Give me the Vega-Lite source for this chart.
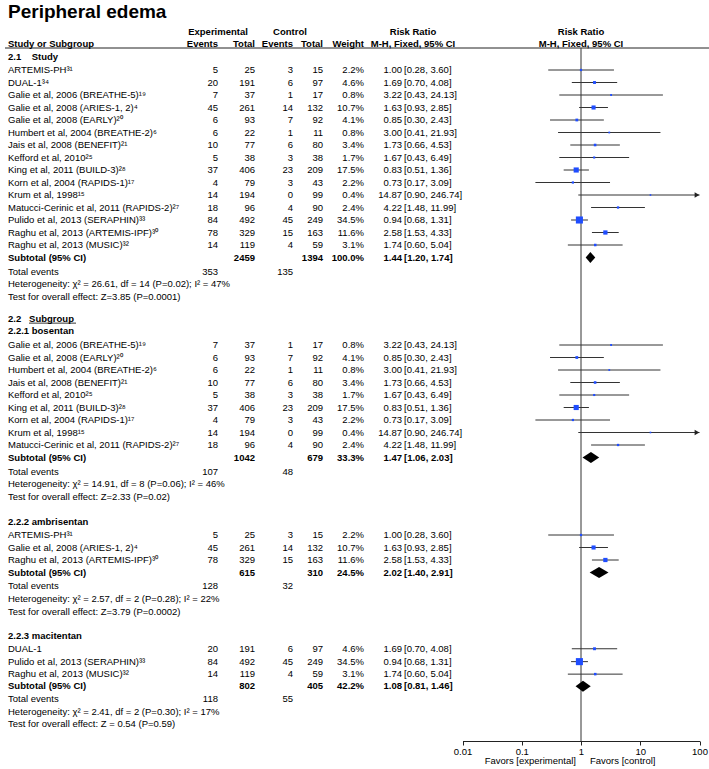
{
  "$schema": "https://vega.github.io/schema/vega-lite/v6.json",
  "autosize": {"type": "none"},
  "padding": {"left": 0, "top": 20, "right": 0, "bottom": 28},
  "width": 709,
  "height": 721,
  "config": {
    "view": {"stroke": null},
    "text": {"font": "Liberation Sans", "fontSize": 9.5, "baseline": "middle", "color": "#000"}
  },
  "datasets": {
    "t": [
      {"r": -1.04, "k": "sec", "s": "2.1\u00a0\u00a0\u00a0\u00a0Study"},
      {"r": 0, "k": "st", "s": "ARTEMIS-PH\u00b3\u00b9", "ee": 5, "et": 25, "ce": 3, "ct": 15, "w": 0.022, "est": 1.00, "lo": 0.28, "hi": 3.60, "ci": "[0.28, 3.60]"},
      {"r": 1, "k": "st", "s": "DUAL-1\u00b3\u2074", "ee": 20, "et": 191, "ce": 6, "ct": 97, "w": 0.046, "est": 1.69, "lo": 0.70, "hi": 4.08, "ci": "[0.70, 4.08]"},
      {"r": 2, "k": "st", "s": "Galie et al, 2006 (BREATHE-5)\u00b9\u2079", "ee": 7, "et": 37, "ce": 1, "ct": 17, "w": 0.008, "est": 3.22, "lo": 0.43, "hi": 24.13, "ci": "[0.43, 24.13]"},
      {"r": 3, "k": "st", "s": "Galie et al, 2008 (ARIES-1, 2)\u2074", "ee": 45, "et": 261, "ce": 14, "ct": 132, "w": 0.107, "est": 1.63, "lo": 0.93, "hi": 2.85, "ci": "[0.93, 2.85]"},
      {"r": 4, "k": "st", "s": "Galie et al, 2008 (EARLY)\u00b2\u2070", "ee": 6, "et": 93, "ce": 7, "ct": 92, "w": 0.041, "est": 0.85, "lo": 0.30, "hi": 2.43, "ci": "[0.30, 2.43]"},
      {"r": 5, "k": "st", "s": "Humbert et al, 2004 (BREATHE-2)\u2076", "ee": 6, "et": 22, "ce": 1, "ct": 11, "w": 0.008, "est": 3.00, "lo": 0.41, "hi": 21.93, "ci": "[0.41, 21.93]"},
      {"r": 6, "k": "st", "s": "Jais et al, 2008 (BENEFIT)\u00b2\u00b9", "ee": 10, "et": 77, "ce": 6, "ct": 80, "w": 0.034, "est": 1.73, "lo": 0.66, "hi": 4.53, "ci": "[0.66, 4.53]"},
      {"r": 7, "k": "st", "s": "Kefford et al, 2010\u00b2\u2075", "ee": 5, "et": 38, "ce": 3, "ct": 38, "w": 0.017, "est": 1.67, "lo": 0.43, "hi": 6.49, "ci": "[0.43, 6.49]"},
      {"r": 8, "k": "st", "s": "King et al, 2011 (BUILD-3)\u00b2\u2078", "ee": 37, "et": 406, "ce": 23, "ct": 209, "w": 0.175, "est": 0.83, "lo": 0.51, "hi": 1.36, "ci": "[0.51, 1.36]"},
      {"r": 9, "k": "st", "s": "Korn et al, 2004 (RAPIDS-1)\u00b9\u2077", "ee": 4, "et": 79, "ce": 3, "ct": 43, "w": 0.022, "est": 0.73, "lo": 0.17, "hi": 3.09, "ci": "[0.17, 3.09]"},
      {"r": 10, "k": "st", "s": "Krum et al, 1998\u00b9\u2075", "ee": 14, "et": 194, "ce": 0, "ct": 99, "w": 0.004, "est": 14.87, "lo": 0.90, "hi": 246.74, "ci": "[0.90, 246.74]"},
      {"r": 11, "k": "st", "s": "Matucci-Cerinic et al, 2011 (RAPIDS-2)\u00b2\u2077", "ee": 18, "et": 96, "ce": 4, "ct": 90, "w": 0.024, "est": 4.22, "lo": 1.48, "hi": 11.99, "ci": "[1.48, 11.99]"},
      {"r": 12, "k": "st", "s": "Pulido et al, 2013 (SERAPHIN)\u00b3\u00b3", "ee": 84, "et": 492, "ce": 45, "ct": 249, "w": 0.345, "est": 0.94, "lo": 0.68, "hi": 1.31, "ci": "[0.68, 1.31]"},
      {"r": 13, "k": "st", "s": "Raghu et al, 2013 (ARTEMIS-IPF)\u00b3\u2070", "ee": 78, "et": 329, "ce": 15, "ct": 163, "w": 0.116, "est": 2.58, "lo": 1.53, "hi": 4.33, "ci": "[1.53, 4.33]"},
      {"r": 14, "k": "st", "s": "Raghu et al, 2013 (MUSIC)\u00b3\u00b2", "ee": 14, "et": 119, "ce": 4, "ct": 59, "w": 0.031, "est": 1.74, "lo": 0.60, "hi": 5.04, "ci": "[0.60, 5.04]"},
      {"r": 15, "k": "sub", "s": "Subtotal (95% CI)", "et": 2459, "ct": 1394, "w": 1.0, "est": 1.44, "ci": "[1.20, 1.74]"},
      {"r": 16.16, "k": "tot", "s": "Total events", "ee": 353, "ce": 135},
      {"r": 17.12, "k": "note", "s": "Heterogeneity: \u03c7\u00b2 = 26.61, df = 14 (P=0.02); I\u00b2 = 47%"},
      {"r": 18.16, "k": "note", "s": "Test for overall effect: Z=3.85 (P=0.0001)"},
      {"r": 19.88, "k": "sec", "s": "2.2\u00a0\u00a0\u00a0Subgroup"},
      {"r": 20.88, "k": "sec", "s": "2.2.1 bosentan"},
      {"r": 22, "k": "st", "s": "Galie et al, 2006 (BREATHE-5)\u00b9\u2079", "ee": 7, "et": 37, "ce": 1, "ct": 17, "w": 0.008, "est": 3.22, "lo": 0.43, "hi": 24.13, "ci": "[0.43, 24.13]"},
      {"r": 23, "k": "st", "s": "Galie et al, 2008 (EARLY)\u00b2\u2070", "ee": 6, "et": 93, "ce": 7, "ct": 92, "w": 0.041, "est": 0.85, "lo": 0.30, "hi": 2.43, "ci": "[0.30, 2.43]"},
      {"r": 24, "k": "st", "s": "Humbert et al, 2004 (BREATHE-2)\u2076", "ee": 6, "et": 22, "ce": 1, "ct": 11, "w": 0.008, "est": 3.00, "lo": 0.41, "hi": 21.93, "ci": "[0.41, 21.93]"},
      {"r": 25, "k": "st", "s": "Jais et al, 2008 (BENEFIT)\u00b2\u00b9", "ee": 10, "et": 77, "ce": 6, "ct": 80, "w": 0.034, "est": 1.73, "lo": 0.66, "hi": 4.53, "ci": "[0.66, 4.53]"},
      {"r": 26, "k": "st", "s": "Kefford et al, 2010\u00b2\u2075", "ee": 5, "et": 38, "ce": 3, "ct": 38, "w": 0.017, "est": 1.67, "lo": 0.43, "hi": 6.49, "ci": "[0.43, 6.49]"},
      {"r": 27, "k": "st", "s": "King et al, 2011 (BUILD-3)\u00b2\u2078", "ee": 37, "et": 406, "ce": 23, "ct": 209, "w": 0.175, "est": 0.83, "lo": 0.51, "hi": 1.36, "ci": "[0.51, 1.36]"},
      {"r": 28, "k": "st", "s": "Korn et al, 2004 (RAPIDS-1)\u00b9\u2077", "ee": 4, "et": 79, "ce": 3, "ct": 43, "w": 0.022, "est": 0.73, "lo": 0.17, "hi": 3.09, "ci": "[0.17, 3.09]"},
      {"r": 29, "k": "st", "s": "Krum et al, 1998\u00b9\u2075", "ee": 14, "et": 194, "ce": 0, "ct": 99, "w": 0.004, "est": 14.87, "lo": 0.90, "hi": 246.74, "ci": "[0.90, 246.74]"},
      {"r": 30, "k": "st", "s": "Matucci-Cerinic et al, 2011 (RAPIDS-2)\u00b2\u2077", "ee": 18, "et": 96, "ce": 4, "ct": 90, "w": 0.024, "est": 4.22, "lo": 1.48, "hi": 11.99, "ci": "[1.48, 11.99]"},
      {"r": 31, "k": "sub", "s": "Subtotal (95% CI)", "et": 1042, "ct": 679, "w": 0.333, "est": 1.47, "ci": "[1.06, 2.03]"},
      {"r": 32.16, "k": "tot", "s": "Total events", "ee": 107, "ce": 48},
      {"r": 33.12, "k": "note", "s": "Heterogeneity: \u03c7\u00b2 = 14.91, df = 8 (P=0.06); I\u00b2 = 46%"},
      {"r": 34.16, "k": "note", "s": "Test for overall effect: Z=2.33 (P=0.02)"},
      {"r": 36.16, "k": "sec", "s": "2.2.2 ambrisentan"},
      {"r": 37.2, "k": "st", "s": "ARTEMIS-PH\u00b3\u00b9", "ee": 5, "et": 25, "ce": 3, "ct": 15, "w": 0.022, "est": 1.00, "lo": 0.28, "hi": 3.60, "ci": "[0.28, 3.60]"},
      {"r": 38.2, "k": "st", "s": "Galie et al, 2008 (ARIES-1, 2)\u2074", "ee": 45, "et": 261, "ce": 14, "ct": 132, "w": 0.107, "est": 1.63, "lo": 0.93, "hi": 2.85, "ci": "[0.93, 2.85]"},
      {"r": 39.2, "k": "st", "s": "Raghu et al, 2013 (ARTEMIS-IPF)\u00b3\u2070", "ee": 78, "et": 329, "ce": 15, "ct": 163, "w": 0.116, "est": 2.58, "lo": 1.53, "hi": 4.33, "ci": "[1.53, 4.33]"},
      {"r": 40.2, "k": "sub", "s": "Subtotal (95% CI)", "et": 615, "ct": 310, "w": 0.245, "est": 2.02, "ci": "[1.40, 2.91]"},
      {"r": 41.28, "k": "tot", "s": "Total events", "ee": 128, "ce": 32},
      {"r": 42.28, "k": "note", "s": "Heterogeneity: \u03c7\u00b2 = 2.57, df = 2 (P=0.28); I\u00b2 = 22%"},
      {"r": 43.32, "k": "note", "s": "Test for overall effect: Z=3.79 (P=0.0002)"},
      {"r": 45.28, "k": "sec", "s": "2.2.3 macitentan"},
      {"r": 46.3, "k": "st", "s": "DUAL-1", "ee": 20, "et": 191, "ce": 6, "ct": 97, "w": 0.046, "est": 1.69, "lo": 0.70, "hi": 4.08, "ci": "[0.70, 4.08]"},
      {"r": 47.33, "k": "st", "s": "Pulido et al, 2013 (SERAPHIN)\u00b3\u00b3", "ee": 84, "et": 492, "ce": 45, "ct": 249, "w": 0.345, "est": 0.94, "lo": 0.68, "hi": 1.31, "ci": "[0.68, 1.31]"},
      {"r": 48.33, "k": "st", "s": "Raghu et al, 2013 (MUSIC)\u00b3\u00b2", "ee": 14, "et": 119, "ce": 4, "ct": 59, "w": 0.031, "est": 1.74, "lo": 0.60, "hi": 5.04, "ci": "[0.60, 5.04]"},
      {"r": 49.3, "k": "sub", "s": "Subtotal (95% CI)", "et": 802, "ct": 405, "w": 0.422, "est": 1.08, "ci": "[0.81, 1.46]"},
      {"r": 50.33, "k": "tot", "s": "Total events", "ee": 118, "ce": 55},
      {"r": 51.35, "k": "note", "s": "Heterogeneity: \u03c7\u00b2 = 2.41, df = 2 (P=0.30); I\u00b2 = 17%"},
      {"r": 52.35, "k": "note", "s": "Test for overall effect: Z = 0.54 (P=0.59)"}
    ],
    "d": [
      {"g": "all", "r": 15, "k": 0, "x": 1.20},
      {"g": "all", "r": 15, "k": 1, "x": 1.44},
      {"g": "all", "r": 15, "k": 2, "x": 1.74},
      {"g": "bos", "r": 31, "k": 0, "x": 1.06},
      {"g": "bos", "r": 31, "k": 1, "x": 1.47},
      {"g": "bos", "r": 31, "k": 2, "x": 2.03},
      {"g": "amb", "r": 40.2, "k": 0, "x": 1.40},
      {"g": "amb", "r": 40.2, "k": 1, "x": 2.02},
      {"g": "amb", "r": 40.2, "k": 2, "x": 2.91},
      {"g": "mac", "r": 49.3, "k": 0, "x": 0.81},
      {"g": "mac", "r": 49.3, "k": 1, "x": 1.08},
      {"g": "mac", "r": 49.3, "k": 2, "x": 1.46}
    ],
    "h": [
      {"r": -4.2, "t": "Peripheral edema", "p": "title"},
      {"r": -3.04, "t": "Experimental", "p": "exp"},
      {"r": -3.04, "t": "Control", "p": "ctl"},
      {"r": -3.04, "t": "Risk Ratio", "p": "rrt"},
      {"r": -3.04, "t": "Risk Ratio", "p": "rrf"},
      {"r": -2.08, "t": "Study or Subgroup", "p": "s"},
      {"r": -2.08, "t": "Events", "p": "ee"},
      {"r": -2.08, "t": "Total", "p": "et"},
      {"r": -2.08, "t": "Events", "p": "ce"},
      {"r": -2.08, "t": "Total", "p": "ct"},
      {"r": -2.08, "t": "Weight", "p": "w"},
      {"r": -2.08, "t": "M-H, Fixed, 95% CI", "p": "rrt"},
      {"r": -2.08, "t": "M-H, Fixed, 95% CI", "p": "rrf"},
      {"r": 55.28, "t": "Favors [experimental]", "p": "fe"},
      {"r": 55.28, "t": "Favors [control]", "p": "fc"}
    ]
  },
  "layer": [
    {
      "data": {"values": [{}]},
      "mark": {"type": "rule", "color": "#222", "strokeWidth": 1},
      "encoding": {
        "x": {"value": 5}, "x2": {"value": 709},
        "y": {"datum": -1.76, "type": "quantitative", "scale": {"domain": [-4, 53.68], "reverse": true, "nice": false, "zero": false}, "axis": null}
      }
    },
    {
      "data": {"values": [{}]},
      "mark": {"type": "rule", "color": "#000", "strokeWidth": 0.8},
      "encoding": {
        "x": {"value": 29}, "x2": {"value": 76},
        "y": {"datum": 20.25, "type": "quantitative", "scale": {"domain": [-4, 53.68], "reverse": true, "nice": false, "zero": false}, "axis": null}
      }
    },
    {
      "data": {"values": [{}]},
      "mark": {"type": "rule", "color": "#333", "strokeWidth": 1},
      "encoding": {
        "x": {"datum": 1, "type": "quantitative", "scale": {"type": "log", "domain": [0.01, 100], "range": [462.5, 699.5], "clamp": true, "nice": false},
              "axis": {"values": [0.01, 0.1, 1, 10, 100], "format": "~g", "title": null, "grid": false, "tickSize": 4, "labelPadding": 1, "labelFontSize": 9.5, "labelFont": "Liberation Sans", "labelColor": "#000", "domainColor": "#222", "tickColor": "#222", "labelOverlap": false, "labelFlush": false}},
        "y": {"datum": -1.76, "type": "quantitative", "scale": {"domain": [-4, 53.68], "reverse": true, "nice": false, "zero": false}, "axis": null},
        "y2": {"datum": 53.68}
      }
    },
    {
      "data": {"name": "t"},
      "transform": [{"filter": {"field": "k", "equal": "st"}}],
      "mark": {"type": "rule", "color": "#333", "strokeWidth": 1},
      "encoding": {
        "x": {"field": "lo", "type": "quantitative", "scale": {"type": "log", "domain": [0.01, 100], "range": [462.5, 699.5], "clamp": true, "nice": false},
              "axis": {"values": [0.01, 0.1, 1, 10, 100], "format": "~g", "title": null, "grid": false, "tickSize": 4, "labelPadding": 1, "labelFontSize": 9.5, "labelFont": "Liberation Sans", "labelColor": "#000", "domainColor": "#222", "tickColor": "#222", "labelOverlap": false, "labelFlush": false}},
        "x2": {"field": "hi"},
        "y": {"field": "r", "type": "quantitative", "scale": {"domain": [-4, 53.68], "reverse": true, "nice": false, "zero": false}, "axis": null}
      }
    },
    {
      "data": {"name": "t"},
      "transform": [{"filter": {"field": "k", "equal": "st"}}],
      "mark": {"type": "point", "shape": "square", "filled": true, "color": "#1f4dff", "opacity": 1, "strokeWidth": 0},
      "encoding": {
        "x": {"field": "est", "type": "quantitative", "scale": {"type": "log", "domain": [0.01, 100], "range": [462.5, 699.5], "clamp": true, "nice": false},
              "axis": {"values": [0.01, 0.1, 1, 10, 100], "format": "~g", "title": null, "grid": false, "tickSize": 4, "labelPadding": 1, "labelFontSize": 9.5, "labelFont": "Liberation Sans", "labelColor": "#000", "domainColor": "#222", "tickColor": "#222", "labelOverlap": false, "labelFlush": false}},
        "y": {"field": "r", "type": "quantitative", "scale": {"domain": [-4, 53.68], "reverse": true, "nice": false, "zero": false}, "axis": null},
        "size": {"field": "w", "type": "quantitative", "scale": {"domain": [0, 0.345], "range": [2, 50]}, "legend": null}
      }
    },
    {
      "data": {"name": "t"},
      "transform": [{"filter": {"and": [{"field": "k", "equal": "st"}, {"field": "hi", "gt": 100}]}}],
      "mark": {"type": "point", "shape": "triangle-right", "filled": true, "color": "#222", "opacity": 1, "size": 30, "xOffset": -2.5},
      "encoding": {
        "x": {"field": "hi", "type": "quantitative", "scale": {"type": "log", "domain": [0.01, 100], "range": [462.5, 699.5], "clamp": true, "nice": false},
              "axis": {"values": [0.01, 0.1, 1, 10, 100], "format": "~g", "title": null, "grid": false, "tickSize": 4, "labelPadding": 1, "labelFontSize": 9.5, "labelFont": "Liberation Sans", "labelColor": "#000", "domainColor": "#222", "tickColor": "#222", "labelOverlap": false, "labelFlush": false}},
        "y": {"field": "r", "type": "quantitative", "scale": {"domain": [-4, 53.68], "reverse": true, "nice": false, "zero": false}, "axis": null}
      }
    },
    {
      "data": {"name": "d"},
      "mark": {"type": "area", "color": "#000", "orient": "vertical", "yOffset": {"expr": "datum.k == 1 ? -5.5 : 0"}, "y2Offset": {"expr": "datum.k == 1 ? 5.5 : 0"}},
      "encoding": {
        "x": {"field": "x", "type": "quantitative", "scale": {"type": "log", "domain": [0.01, 100], "range": [462.5, 699.5], "clamp": true, "nice": false},
              "axis": {"values": [0.01, 0.1, 1, 10, 100], "format": "~g", "title": null, "grid": false, "tickSize": 4, "labelPadding": 1, "labelFontSize": 9.5, "labelFont": "Liberation Sans", "labelColor": "#000", "domainColor": "#222", "tickColor": "#222", "labelOverlap": false, "labelFlush": false}},
        "y": {"field": "r", "type": "quantitative", "scale": {"domain": [-4, 53.68], "reverse": true, "nice": false, "zero": false}, "axis": null},
        "y2": {"field": "r"},
        "detail": {"field": "g", "type": "nominal"}
      }
    },
    {
      "data": {"name": "t"},
      "transform": [{"filter": {"field": "k", "oneOf": ["st", "tot", "note"]}}],
      "mark": {"type": "text", "align": "left"},
      "encoding": {"x": {"value": 8}, "y": {"field": "r", "type": "quantitative", "scale": {"domain": [-4, 53.68], "reverse": true, "nice": false, "zero": false}, "axis": null}, "text": {"field": "s", "type": "nominal"}}
    },
    {
      "data": {"name": "t"},
      "transform": [{"filter": {"field": "k", "oneOf": ["sec", "sub"]}}],
      "mark": {"type": "text", "align": "left", "fontWeight": "bold"},
      "encoding": {"x": {"value": 8}, "y": {"field": "r", "type": "quantitative", "scale": {"domain": [-4, 53.68], "reverse": true, "nice": false, "zero": false}, "axis": null}, "text": {"field": "s", "type": "nominal"}}
    },
    {
      "data": {"name": "t"},
      "transform": [{"filter": {"field": "k", "oneOf": ["st", "tot"]}}],
      "mark": {"type": "text", "align": "right"},
      "encoding": {"x": {"value": 218}, "y": {"field": "r", "type": "quantitative", "scale": {"domain": [-4, 53.68], "reverse": true, "nice": false, "zero": false}, "axis": null}, "text": {"field": "ee", "type": "nominal"}}
    },
    {
      "data": {"name": "t"},
      "transform": [{"filter": {"field": "k", "equal": "st"}}],
      "mark": {"type": "text", "align": "right"},
      "encoding": {"x": {"value": 255}, "y": {"field": "r", "type": "quantitative", "scale": {"domain": [-4, 53.68], "reverse": true, "nice": false, "zero": false}, "axis": null}, "text": {"field": "et", "type": "nominal"}}
    },
    {
      "data": {"name": "t"},
      "transform": [{"filter": {"field": "k", "equal": "sub"}}],
      "mark": {"type": "text", "align": "right", "fontWeight": "bold"},
      "encoding": {"x": {"value": 255}, "y": {"field": "r", "type": "quantitative", "scale": {"domain": [-4, 53.68], "reverse": true, "nice": false, "zero": false}, "axis": null}, "text": {"field": "et", "type": "nominal"}}
    },
    {
      "data": {"name": "t"},
      "transform": [{"filter": {"field": "k", "oneOf": ["st", "tot"]}}],
      "mark": {"type": "text", "align": "right"},
      "encoding": {"x": {"value": 293}, "y": {"field": "r", "type": "quantitative", "scale": {"domain": [-4, 53.68], "reverse": true, "nice": false, "zero": false}, "axis": null}, "text": {"field": "ce", "type": "nominal"}}
    },
    {
      "data": {"name": "t"},
      "transform": [{"filter": {"field": "k", "equal": "st"}}],
      "mark": {"type": "text", "align": "right"},
      "encoding": {"x": {"value": 323}, "y": {"field": "r", "type": "quantitative", "scale": {"domain": [-4, 53.68], "reverse": true, "nice": false, "zero": false}, "axis": null}, "text": {"field": "ct", "type": "nominal"}}
    },
    {
      "data": {"name": "t"},
      "transform": [{"filter": {"field": "k", "equal": "sub"}}],
      "mark": {"type": "text", "align": "right", "fontWeight": "bold"},
      "encoding": {"x": {"value": 323}, "y": {"field": "r", "type": "quantitative", "scale": {"domain": [-4, 53.68], "reverse": true, "nice": false, "zero": false}, "axis": null}, "text": {"field": "ct", "type": "nominal"}}
    },
    {
      "data": {"name": "t"},
      "transform": [{"filter": {"field": "k", "equal": "st"}}],
      "mark": {"type": "text", "align": "right"},
      "encoding": {"x": {"value": 364}, "y": {"field": "r", "type": "quantitative", "scale": {"domain": [-4, 53.68], "reverse": true, "nice": false, "zero": false}, "axis": null}, "text": {"field": "w", "type": "quantitative", "format": ".1%"}}
    },
    {
      "data": {"name": "t"},
      "transform": [{"filter": {"field": "k", "equal": "sub"}}],
      "mark": {"type": "text", "align": "right", "fontWeight": "bold"},
      "encoding": {"x": {"value": 364}, "y": {"field": "r", "type": "quantitative", "scale": {"domain": [-4, 53.68], "reverse": true, "nice": false, "zero": false}, "axis": null}, "text": {"field": "w", "type": "quantitative", "format": ".1%"}}
    },
    {
      "data": {"name": "t"},
      "transform": [{"filter": {"field": "k", "equal": "st"}}],
      "mark": {"type": "text", "align": "right"},
      "encoding": {"x": {"value": 402}, "y": {"field": "r", "type": "quantitative", "scale": {"domain": [-4, 53.68], "reverse": true, "nice": false, "zero": false}, "axis": null}, "text": {"field": "est", "type": "quantitative", "format": ".2f"}}
    },
    {
      "data": {"name": "t"},
      "transform": [{"filter": {"field": "k", "equal": "sub"}}],
      "mark": {"type": "text", "align": "right", "fontWeight": "bold"},
      "encoding": {"x": {"value": 402}, "y": {"field": "r", "type": "quantitative", "scale": {"domain": [-4, 53.68], "reverse": true, "nice": false, "zero": false}, "axis": null}, "text": {"field": "est", "type": "quantitative", "format": ".2f"}}
    },
    {
      "data": {"name": "t"},
      "transform": [{"filter": {"field": "k", "equal": "st"}}],
      "mark": {"type": "text", "align": "left"},
      "encoding": {"x": {"value": 404}, "y": {"field": "r", "type": "quantitative", "scale": {"domain": [-4, 53.68], "reverse": true, "nice": false, "zero": false}, "axis": null}, "text": {"field": "ci", "type": "nominal"}}
    },
    {
      "data": {"name": "t"},
      "transform": [{"filter": {"field": "k", "equal": "sub"}}],
      "mark": {"type": "text", "align": "left", "fontWeight": "bold"},
      "encoding": {"x": {"value": 404}, "y": {"field": "r", "type": "quantitative", "scale": {"domain": [-4, 53.68], "reverse": true, "nice": false, "zero": false}, "axis": null}, "text": {"field": "ci", "type": "nominal"}}
    },
    {
      "data": {"name": "h"},
      "transform": [{"filter": {"field": "p", "equal": "title"}}],
      "mark": {"type": "text", "align": "left", "fontWeight": "bold", "fontSize": 19, "baseline": "alphabetic"},
      "encoding": {"x": {"value": 8}, "y": {"field": "r", "type": "quantitative", "scale": {"domain": [-4, 53.68], "reverse": true, "nice": false, "zero": false}, "axis": null}, "text": {"field": "t", "type": "nominal"}}
    },
    {
      "data": {"name": "h"},
      "transform": [{"filter": {"field": "p", "equal": "s"}}],
      "mark": {"type": "text", "align": "left", "fontWeight": "bold"},
      "encoding": {"x": {"value": 8}, "y": {"field": "r", "type": "quantitative", "scale": {"domain": [-4, 53.68], "reverse": true, "nice": false, "zero": false}, "axis": null}, "text": {"field": "t", "type": "nominal"}}
    },
    {
      "data": {"name": "h"},
      "transform": [{"filter": {"field": "p", "equal": "exp"}}],
      "mark": {"type": "text", "align": "center", "fontWeight": "bold"},
      "encoding": {"x": {"value": 218}, "y": {"field": "r", "type": "quantitative", "scale": {"domain": [-4, 53.68], "reverse": true, "nice": false, "zero": false}, "axis": null}, "text": {"field": "t", "type": "nominal"}}
    },
    {
      "data": {"name": "h"},
      "transform": [{"filter": {"field": "p", "equal": "ctl"}}],
      "mark": {"type": "text", "align": "center", "fontWeight": "bold"},
      "encoding": {"x": {"value": 290}, "y": {"field": "r", "type": "quantitative", "scale": {"domain": [-4, 53.68], "reverse": true, "nice": false, "zero": false}, "axis": null}, "text": {"field": "t", "type": "nominal"}}
    },
    {
      "data": {"name": "h"},
      "transform": [{"filter": {"field": "p", "equal": "ee"}}],
      "mark": {"type": "text", "align": "right", "fontWeight": "bold"},
      "encoding": {"x": {"value": 218}, "y": {"field": "r", "type": "quantitative", "scale": {"domain": [-4, 53.68], "reverse": true, "nice": false, "zero": false}, "axis": null}, "text": {"field": "t", "type": "nominal"}}
    },
    {
      "data": {"name": "h"},
      "transform": [{"filter": {"field": "p", "equal": "et"}}],
      "mark": {"type": "text", "align": "right", "fontWeight": "bold"},
      "encoding": {"x": {"value": 255}, "y": {"field": "r", "type": "quantitative", "scale": {"domain": [-4, 53.68], "reverse": true, "nice": false, "zero": false}, "axis": null}, "text": {"field": "t", "type": "nominal"}}
    },
    {
      "data": {"name": "h"},
      "transform": [{"filter": {"field": "p", "equal": "ce"}}],
      "mark": {"type": "text", "align": "right", "fontWeight": "bold"},
      "encoding": {"x": {"value": 293}, "y": {"field": "r", "type": "quantitative", "scale": {"domain": [-4, 53.68], "reverse": true, "nice": false, "zero": false}, "axis": null}, "text": {"field": "t", "type": "nominal"}}
    },
    {
      "data": {"name": "h"},
      "transform": [{"filter": {"field": "p", "equal": "ct"}}],
      "mark": {"type": "text", "align": "right", "fontWeight": "bold"},
      "encoding": {"x": {"value": 323}, "y": {"field": "r", "type": "quantitative", "scale": {"domain": [-4, 53.68], "reverse": true, "nice": false, "zero": false}, "axis": null}, "text": {"field": "t", "type": "nominal"}}
    },
    {
      "data": {"name": "h"},
      "transform": [{"filter": {"field": "p", "equal": "w"}}],
      "mark": {"type": "text", "align": "right", "fontWeight": "bold"},
      "encoding": {"x": {"value": 364}, "y": {"field": "r", "type": "quantitative", "scale": {"domain": [-4, 53.68], "reverse": true, "nice": false, "zero": false}, "axis": null}, "text": {"field": "t", "type": "nominal"}}
    },
    {
      "data": {"name": "h"},
      "transform": [{"filter": {"field": "p", "equal": "rrt"}}],
      "mark": {"type": "text", "align": "center", "fontWeight": "bold"},
      "encoding": {"x": {"value": 413}, "y": {"field": "r", "type": "quantitative", "scale": {"domain": [-4, 53.68], "reverse": true, "nice": false, "zero": false}, "axis": null}, "text": {"field": "t", "type": "nominal"}}
    },
    {
      "data": {"name": "h"},
      "transform": [{"filter": {"field": "p", "equal": "rrf"}}],
      "mark": {"type": "text", "align": "center", "fontWeight": "bold"},
      "encoding": {
        "x": {"datum": 1, "type": "quantitative", "scale": {"type": "log", "domain": [0.01, 100], "range": [462.5, 699.5], "clamp": true, "nice": false},
              "axis": {"values": [0.01, 0.1, 1, 10, 100], "format": "~g", "title": null, "grid": false, "tickSize": 4, "labelPadding": 1, "labelFontSize": 9.5, "labelFont": "Liberation Sans", "labelColor": "#000", "domainColor": "#222", "tickColor": "#222", "labelOverlap": false, "labelFlush": false}},
        "y": {"field": "r", "type": "quantitative", "scale": {"domain": [-4, 53.68], "reverse": true, "nice": false, "zero": false}, "axis": null},
        "text": {"field": "t", "type": "nominal"}}
    },
    {
      "data": {"name": "h"},
      "transform": [{"filter": {"field": "p", "equal": "fe"}}],
      "mark": {"type": "text", "align": "right", "dx": -5, "fontSize": 9.5},
      "encoding": {
        "x": {"datum": 1, "type": "quantitative", "scale": {"type": "log", "domain": [0.01, 100], "range": [462.5, 699.5], "clamp": true, "nice": false},
              "axis": {"values": [0.01, 0.1, 1, 10, 100], "format": "~g", "title": null, "grid": false, "tickSize": 4, "labelPadding": 1, "labelFontSize": 9.5, "labelFont": "Liberation Sans", "labelColor": "#000", "domainColor": "#222", "tickColor": "#222", "labelOverlap": false, "labelFlush": false}},
        "y": {"field": "r", "type": "quantitative", "scale": {"domain": [-4, 53.68], "reverse": true, "nice": false, "zero": false}, "axis": null},
        "text": {"field": "t", "type": "nominal"}}
    },
    {
      "data": {"name": "h"},
      "transform": [{"filter": {"field": "p", "equal": "fc"}}],
      "mark": {"type": "text", "align": "left", "dx": 9, "fontSize": 9.5},
      "encoding": {
        "x": {"datum": 1, "type": "quantitative", "scale": {"type": "log", "domain": [0.01, 100], "range": [462.5, 699.5], "clamp": true, "nice": false},
              "axis": {"values": [0.01, 0.1, 1, 10, 100], "format": "~g", "title": null, "grid": false, "tickSize": 4, "labelPadding": 1, "labelFontSize": 9.5, "labelFont": "Liberation Sans", "labelColor": "#000", "domainColor": "#222", "tickColor": "#222", "labelOverlap": false, "labelFlush": false}},
        "y": {"field": "r", "type": "quantitative", "scale": {"domain": [-4, 53.68], "reverse": true, "nice": false, "zero": false}, "axis": null},
        "text": {"field": "t", "type": "nominal"}}
    }
  ]
}
